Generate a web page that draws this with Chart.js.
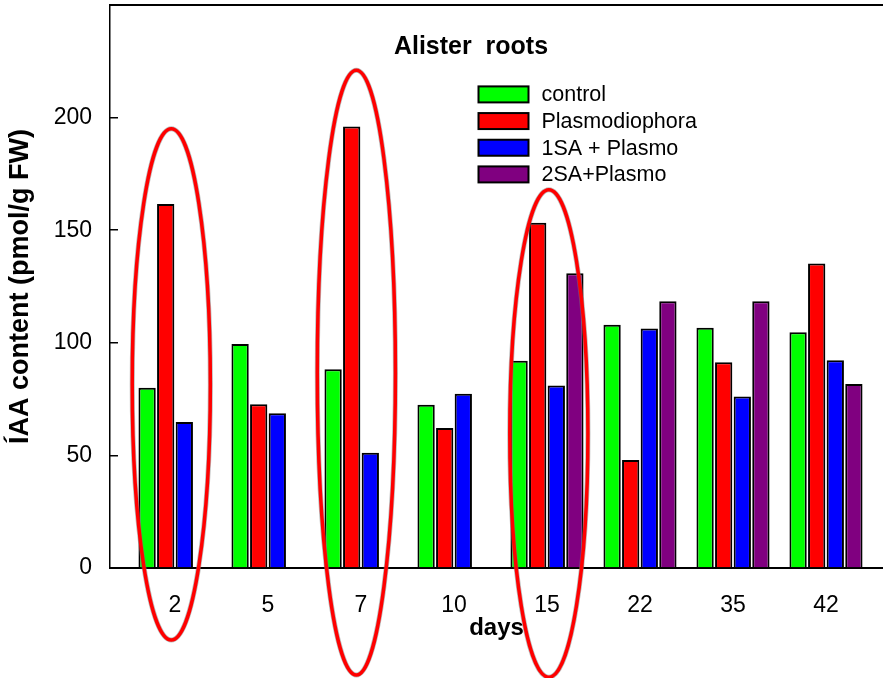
<!DOCTYPE html>
<html>
<head>
<meta charset="utf-8">
<script src="https://cdn.jsdelivr.net/npm/chart.js@4/dist/chart.umd.min.js"></script>
<style>
  html, body { margin: 0; padding: 0; background: #ffffff; }
  #wrap { width: 883px; height: 678px; }
</style>
</head>
<body>
<div id="wrap"><canvas id="c" width="883" height="678"></canvas></div>
<script>
// ---- data ----
const days = ['2', '5', '7', '10', '15', '22', '35', '42'];
const seriesNames = ['control', 'Plasmodiophora', '1SA + Plasmo', '2SA+Plasmo'];
const control = [80, 99.5, 88.3, 72.5, 92, 108, 106.7, 104.7];
const plasmodiophora = [161.6, 72.7, 196, 62.2, 153.3, 48, 91.4, 135.2];
const sa1Plasmo = [64.8, 68.7, 51.2, 77.4, 81, 106.4, 76.2, 92.3];
const sa2Plasmo = [null, null, null, null, 130.9, 118.5, 118.5, 81.7];
const yTicks = [0, 50, 100, 150, 200];
const chartTitle = 'Alister  roots';
const yTitle = 'ÍAA content (pmol/g FW)';
const xTitle = 'days';

// highlighted categories (red ellipses), in data units
const highlights = [
  { index: 0, dx: -0.04, top: 195, bottom: -32 },
  { index: 2, dx: -0.05, top: 221, bottom: -47.5 },
  { index: 4, dx: 0.02, top: 168, bottom: -48.5 }
];

const colors = ['#00ff00', '#ff0000', '#0000ff', '#800080'];
const FONT = '"Liberation Sans", Arial, Helvetica, sans-serif';

const allSeries = [control, plasmodiophora, sa1Plasmo, sa2Plasmo];
const datasets = allSeries.map((arr, s) => ({
  label: seriesNames[s],
  data: arr.map((v, i) => ({ x: i, y: v })),
  backgroundColor: colors[s],
  borderColor: '#000000',
  borderWidth: 2,
  borderSkipped: 'bottom',
  categoryPercentage: 0.8,
  barPercentage: 0.93
}));

function noPad(s) { s.paddingTop = 0; s.paddingBottom = 0; s.paddingLeft = 0; s.paddingRight = 0; }

const decorPlugin = {
  id: 'decor',
  afterDraw(chart) {
    const ctx = chart.ctx;
    const xs = chart.scales.x, ys = chart.scales.y;
    // title
    ctx.save();
    ctx.fillStyle = '#000';
    ctx.font = 'bold 25px ' + FONT;
    ctx.textAlign = 'center';
    ctx.textBaseline = 'alphabetic';
    ctx.fillText(chartTitle, 471, 53.5);
    // legend
    ctx.font = '21.5px ' + FONT;
    ctx.textAlign = 'left';
    ctx.textBaseline = 'middle';
    chart.data.datasets.forEach((ds, i) => {
      const cy = 94.4 + i * 26.67;
      ctx.fillStyle = ds.backgroundColor;
      ctx.fillRect(478.5, cy - 8, 50, 16);
      ctx.lineWidth = 2;
      ctx.strokeStyle = '#000';
      ctx.strokeRect(478.5, cy - 8, 50, 16);
      ctx.fillStyle = '#000';
      ctx.fillText(ds.label, 541.5, cy + 1);
    });
    // highlight ellipses
    highlights.forEach(h => {
      const cx = xs.getPixelForValue(h.index + h.dx);
      const rx = xs.getPixelForValue(h.index + 0.42) - xs.getPixelForValue(h.index);
      const yt = ys.getPixelForValue(h.top);
      const yb = ys.getPixelForValue(h.bottom);
      ctx.beginPath();
      ctx.ellipse(cx, (yt + yb) / 2, rx, (yb - yt) / 2, 0, 0, Math.PI * 2);
      ctx.strokeStyle = 'rgba(120,120,120,0.5)';
      ctx.lineWidth = 5;
      ctx.stroke();
      ctx.strokeStyle = '#ff0000';
      ctx.lineWidth = 3.5;
      ctx.stroke();
    });
    ctx.restore();
  }
};

new Chart(document.getElementById('c'), {
  type: 'bar',
  data: { datasets },
  plugins: [decorPlugin],
  options: {
    responsive: false,
    animation: false,
    devicePixelRatio: 1,
    layout: { padding: { top: 5, left: 0, right: 0, bottom: 0 } },
    plugins: { legend: { display: false }, title: { display: false }, tooltip: { enabled: false } },
    scales: {
      x: {
        type: 'linear',
        position: 'bottom',
        offset: false,
        min: -0.699,
        max: 7.613,
        afterFit(s) { s.height = 110; noPad(s); },
        afterBuildTicks(s) { s.ticks = days.map((d, i) => ({ value: i })); },
        grid: { display: false, offset: false },
        border: { display: true, color: '#000', width: 2 },
        ticks: {
          color: '#000',
          font: { family: FONT, size: 23 },
          padding: 16,
          maxRotation: 0,
          autoSkip: false,
          callback: (v) => days[v]
        },
        title: {
          display: true,
          text: xTitle,
          color: '#000',
          font: { family: FONT, size: 24, weight: 'bold' },
          padding: { top: 0, bottom: 35 }
        }
      },
      x2: {
        type: 'linear',
        axis: 'x',
        position: 'top',
        offset: false,
        min: -0.699,
        max: 7.613,
        afterFit(s) { s.height = 0; noPad(s); },
        grid: { display: false },
        ticks: { display: false },
        border: { display: true, color: '#000', width: 2 }
      },
      y: {
        type: 'linear',
        position: 'left',
        min: 0,
        max: 250,
        afterFit(s) { s.width = 110; noPad(s); },
        afterBuildTicks(s) { s.ticks = yTicks.map(v => ({ value: v })); },
        grid: {
          display: true,
          drawOnChartArea: false,
          drawTicks: true,
          tickLength: -8,
          color: '#000',
          lineWidth: 1.5
        },
        border: { display: true, color: '#000', width: 1.5 },
        ticks: {
          color: '#000',
          font: { family: FONT, size: 23 },
          padding: 26
        },
        title: {
          display: true,
          text: yTitle,
          color: '#000',
          font: { family: FONT, size: 27, weight: 'bold' },
          padding: { top: 4, bottom: 0 }
        }
      }
    }
  }
});
</script>
</body>
</html>
